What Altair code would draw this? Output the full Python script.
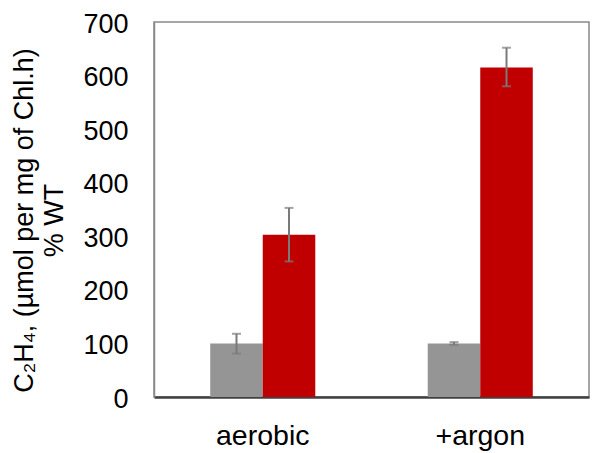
import altair as alt
import pandas as pd

conditions = ["aerobic", "aerobic", "+argon", "+argon"]
strains = ["WT", "mutant", "WT", "mutant"]
values = [100, 303, 100, 615]
err_low = [81, 253, 97.5, 580]
err_high = [118, 353, 102.5, 652]
cond_order = ["aerobic", "+argon"]
strain_order = ["WT", "mutant"]
colors = ["#959595", "#C00000"]
y_ticks = [0, 100, 200, 300, 400, 500, 600, 700]

df = pd.DataFrame({
    "condition": conditions,
    "strain": strains,
    "value": values,
    "lo": err_low,
    "hi": err_high,
})

FONT = "Liberation Sans"

x_enc = alt.X(
    "condition:N",
    sort=cond_order,
    scale=alt.Scale(paddingInner=0.517, paddingOuter=0.2585),
    axis=alt.Axis(
        title=None, labelAngle=0, ticks=False, labelPadding=24,
        labelFontSize=28.5, labelFont=FONT, labelColor="#000000",
        domainColor="#404040", domainWidth=2.5,
    ),
)
xoff = alt.XOffset("strain:N", sort=strain_order)

y_enc = alt.Y(
    "value:Q",
    scale=alt.Scale(domain=[0, 700], nice=False),
    axis=alt.Axis(
        values=y_ticks, grid=False, ticks=False, labelPadding=26,
        labelOffset=2,
        labelFontSize=27, labelFont=FONT, labelColor="#000000",
        domainColor="#898989", domainWidth=1.5,
        title=["C₂H₄, (µmol per mg of Chl.h)", "% WT"],
        titleFontSize=27, titleFont=FONT, titleFontWeight="normal",
        titleColor="#000000", titleAngle=270, titleAlign="center",
        titleBaseline="top", titleX=-143, titleY=198, titleLineHeight=30,
    ),
)

bars = alt.Chart(df).mark_bar().encode(
    x=x_enc,
    xOffset=xoff,
    y=y_enc,
    color=alt.Color("strain:N", sort=strain_order,
                    scale=alt.Scale(domain=strain_order, range=colors),
                    legend=None),
)

rules = alt.Chart(df).mark_rule(color="#7A7A7A", strokeWidth=2).encode(
    x=alt.X("condition:N", sort=cond_order),
    xOffset=xoff,
    y="lo:Q",
    y2="hi:Q",
)

caps_lo = alt.Chart(df).mark_tick(color="#7A7A7A", size=9, thickness=2).encode(
    x=alt.X("condition:N", sort=cond_order),
    xOffset=xoff,
    y="lo:Q",
)
caps_hi = alt.Chart(df).mark_tick(color="#7A7A7A", size=9, thickness=2).encode(
    x=alt.X("condition:N", sort=cond_order),
    xOffset=xoff,
    y="hi:Q",
)

chart = alt.layer(bars, rules, caps_lo, caps_hi).properties(
    width=435,
    height=375,
    autosize=alt.AutoSizeParams(type="none"),
    padding={"left": 146, "top": 14, "right": 3, "bottom": 60},
).configure_view(
    stroke="#898989", strokeWidth=1.5,
)

chart.save("out.html", embed_options={"renderer": "svg", "actions": False})
